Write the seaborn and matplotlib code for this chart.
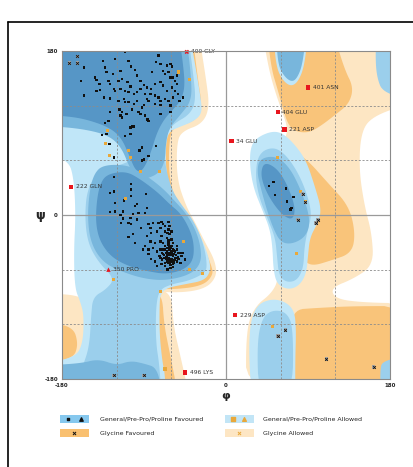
import numpy as np
import pandas as pd
import matplotlib
matplotlib.use("Agg")
import matplotlib.pyplot as plt
import seaborn as sns
from matplotlib.patches import Rectangle

sns.set_style("white")
plt.rcParams["font.family"] = ["DejaVu Sans"]

# ---------------- data: residues (phi, psi) ----------------
beta_phi = [-111,-156,-135,-122,-107,-74,-77,-72,-65,-61,-59,-69,-67,-63,-61,-58,-56,-54,-133,-131,-124,-116,-104,-100,-81,-159,-144,-142,-139,-129,-127,-118,-114,-108,-105,-98,-94,-90,-87,-82,-78,-72,-69,-65,-59,-54,-56,-53,-123,-122,-116,-111,-107,-101,-98,-94,-89,-83,-78,-74,-72,-67,-63,-58,-51,-142,-138,-156,-134,-127,-118,-112,-111,-107,-101,-98,-90,-87,-85,-78,-72,-61,-47,-117,-114,-109,-103,-96,-92,-94,-89,-86,-116,-114,-127,-129,-133,-105,-101,-85,-61,-72]
beta_psi = [179,162,169,171,169,175,168,166,164,166,163,158,155,157,151,151,147,153,162,157,155,158,163,159,157,147,151,148,144,147,144,147,149,146,141,153,147,143,140,138,144,146,142,136,140,144,136,133,138,136,138,136,135,133,135,138,133,133,131,129,125,127,125,129,125,136,137,131,129,128,125,127,124,124,122,125,121,127,125,122,121,120,129,116,113,111,116,113,118,111,109,105,109,107,113,103,101,96,98,103,113,111]

bridge_phi = [-103,-101,-136,-131,-111,-105,-128,-95,-92,-77,-123,-90,-85,-92,-123,-127,-123,-104,-104,-104,-88,-112,-122,-100,-98]
bridge_psi = [97,97,88,89,87,89,78,71,74,76,63,61,65,60,42,24,26,34,28,21,23,16,13,10,12]

alpha_phi = [-122,-100,-87,-127,-122,-113,-116,-113,-102,-96,-89,-105,-98,-115,-107,-104,-93,-85,-83,-80,-74,-71,-69,-63,-72,-76,-82,-87,-67,-63,-62,-65,-60,-69,-72,-78,-83,-89,-91,-85,-80,-76,-72,-100,-102,-107,-85,-82,-78,-72,-69,-65,-62,-58,-54,-50,-49,-56,-60,-63,-67,-71,-76,-64,-61,-58,-54,-50,-45,-47,-67,-63,-58,-62,-69,-71,-67,-62,-60,-64,
             -65,-63,-61,-60,-58,-62,-64,-66,-59,-57,-63,-60,-55,-67,-64,-61,-56,-53,-58,-62,-66,-68,-70,-54,-52,
             -66,-64,-62,-59,-57,-55,-60,-63,-68,-65,-61,-58,-56,-52,-70,-73,-67,-60,-57,-63]
alpha_psi = [13,10,8,3,4,4,0,-4,1,2,2,-3,-5,-9,-9,-10,-14,-10,-14,-9,-9,-8,-10,-8,-14,-18,-20,-23,-18,-16,-21,-25,-27,-31,-29,-31,-29,-34,-38,-38,-36,-40,-38,-31,-21,-24,-43,-48,-51,-47,-43,-45,-42,-38,-34,-42,-45,-47,-51,-53,-56,-54,-56,-60,-58,-54,-51,-53,-49,-42,-34,-31,-31,-34,-38,-23,-12,-12,-18,-20,
             -40,-42,-44,-40,-45,-38,-44,-42,-41,-43,-47,-48,-44,-38,-36,-36,-40,-46,-50,-50,-48,-44,-42,-38,-42,
             -46,-49,-52,-48,-52,-47,-34,-33,-47,-51,-55,-57,-49,-48,-49,-45,-53,-44,-39,-28]

lalpha_phi = [47,52,54,66,67,74,72,71]
lalpha_psi = [32,36,22,29,15,20,8,6]

allowed_phi = [-52,-40,-130,-132,-128,-107,-105,-94,-73,-110,-47,-40,-26,-123,-72,-67,57,82,87,77,51]
allowed_psi = [157,149,93,78,65,71,63,48,48,18,-29,-60,-64,-71,-84,-169,63,26,15,-42,-122]

gly_phi = [-172,-163,-163,84,87,79,101,99,65,57,110,162,-123,-90]
gly_psi = [167,174,167,23,14,-5,-5,-9,-126,-133,-158,-167,-176,-176]

out_labels = ["400 GLY","401 ASN","404 GLU","221 ASP","34 GLU","222 GLN","350 PRO","229 ASP","496 LYS"]
out_phi = [-43,90,57,64,6,-170,-129,10,-45]
out_psi = [179,140,113,94,81,31,-60,-110,-173]
out_kind = ["gly","gen","gen","gen","gen","gen","pro","gen","gen"]

# ---------------- data: contour regions (phi, psi vertices) ----------------
gly_allowed_regions = [
    [(40,180),(180,180),(180,122),(160,108),(148,90),(146,50),(152,10),(160,-20),(162,-55),(140,-70),(115,-80),(120,-92),(150,-96),(180,-97),(180,-180),(22,-180),(22,-125),(32,-100),(50,-86),(58,-70),(58,-20),(58,40),(64,80),(68,95),(61,115),(54,135),(47,160)],
    [(-92,-82),(-60,-82),(-58,-120),(-50,-155),(-40,-180),(-100,-180),(-98,-120)],
    [(-180,-86),(-160,-88),(-150,-100),(-150,-130),(-158,-160),(-180,-166)],
    [(-52,180),(-30,180),(-22,150),(-18,118),(-26,100),(-48,92),(-54,80),(-54,40),(-44,10),(-34,-8),(-24,-28),(-12,-50),(-10,-68),(-24,-82),(-60,-86),(-100,-80),(-100,100)],
]
gly_fav_regions = [
    [(45,180),(118,180),(130,160),(140,140),(135,122),(120,110),(103,97),(90,90),(75,92),(68,100),(63,115),(56,140),(50,160)],
    [(70,72),(88,62),(112,35),(135,10),(142,-20),(138,-42),(115,-50),(95,-56),(85,-50),(80,-20),(75,20),(66,50)],
    [(72,-104),(100,-102),(140,-100),(180,-100),(180,-180),(70,-180),(73,-140)],
    [(-80,-88),(-70,-88),(-68,-120),(-62,-150),(-52,-180),(-92,-180),(-93,-140),(-88,-105)],
    [(-180,-118),(-168,-122),(-162,-142),(-168,-158),(-180,-162)],
    [(-50,180),(-37,180),(-31,150),(-26,118),(-33,104),(-50,98),(-60,94),(-63,70),(-62,40),(-55,15),(-44,0),(-35,-15),(-26,-32),(-16,-55),(-14,-66),(-26,-78),(-60,-82),(-90,-80),(-90,100)],
]
gen_lightest = [
    [(-180,180),(-40,180),(-33,160),(-28,130),(-26,112),(-35,103),(-50,97),(-62,92),(-66,80),(-66,50),(-62,30),(-50,12),(-40,0),(-32,-15),(-24,-32),(-18,-50),(-17,-62),(-24,-72),(-45,-76),(-65,-80),(-72,-87),(-73,-100),(-73,-130),(-70,-160),(-67,-175),(-66,-180),(-180,-180),(-180,-163),(-165,-156),(-157,-140),(-156,-110),(-160,-95),(-166,-80),(-167,-40),(-165,0),(-167,40),(-173,60),(-180,68)],
    [(34,85),(50,92),(62,90),(75,78),(88,60),(98,30),(105,5),(100,-10),(92,-25),(90,-45),(88,-65),(80,-78),(68,-82),(56,-76),(52,-60),(51,-35),(48,-15),(40,5),(30,30),(26,55),(27,75)],
    [(28,-180),(25,-150),(27,-115),(35,-98),(50,-92),(65,-95),(75,-105),(77,-125),(76,-160),(76,-180)],
    [(52,180),(90,180),(86,163),(79,146),(71,141),(62,148),(55,163)],
]
gen_light = [
    [(-180,180),(-42,180),(-36,155),(-33,125),(-40,110),(-58,100),(-66,88),(-68,60),(-60,28),(-48,10),(-38,-3),(-30,-18),(-24,-35),(-21,-52),(-22,-63),(-40,-72),(-60,-76),(-73,-82),(-77,-100),(-77,-140),(-73,-165),(-71,-180),(-170,-180),(-158,-168),(-150,-145),(-148,-110),(-146,-90),(-132,-82),(-122,-70),(-140,-52),(-152,-30),(-155,0),(-152,30),(-138,50),(-115,55),(-100,62),(-104,78),(-118,92),(-140,98),(-165,100),(-180,102)],
    [(36,68),(52,75),(66,66),(80,45),(90,20),(94,0),(90,-15),(86,-35),(85,-58),(78,-72),(66,-74),(58,-66),(56,-45),(54,-25),(46,-5),(36,20),(32,45)],
    [(36,-180),(34,-140),(40,-112),(52,-104),(67,-107),(74,-125),(73,-180)],
    [(165,180),(180,180),(180,127),(172,135),(166,150),(164,170)],
    [(170,-180),(180,-180),(180,-155),(172,-160),(169,-170)],
]
gen_medium = [
    [(-180,180),(-44,180),(-38,150),(-38,125),(-50,110),(-62,96),(-66,80),(-67,58),(-75,44),(-95,38),(-105,50),(-115,75),(-130,88),(-160,95),(-180,98)],
    [(-135,55),(-108,55),(-90,45),(-70,30),(-55,14),(-44,2),(-34,-15),(-28,-33),(-27,-52),(-38,-65),(-65,-72),(-90,-70),(-115,-62),(-135,-52),(-148,-32),(-152,-5),(-150,25),(-145,45)],
    [(-180,-180),(-180,-165),(-160,-163),(-140,-158),(-120,-165),(-105,-160),(-90,-163),(-75,-168),(-70,-180)],
    [(37,62),(55,65),(70,52),(82,28),(90,5),(92,-12),(86,-25),(72,-32),(60,-30),(52,-15),(45,5),(38,30),(34,48)],
    [(55,180),(88,180),(84,165),(78,150),(72,146),(64,152),(57,165)],
]
gen_fav = [
    [(-180,180),(-52,180),(-47,165),(-45,140),(-50,125),(-58,116),(-68,105),(-76,90),(-82,70),(-88,55),(-94,47),(-100,50),(-106,65),(-115,85),(-128,96),(-150,104),(-170,108),(-180,110)],
    [(-130,45),(-110,48),(-95,40),(-75,25),(-62,12),(-50,2),(-40,-15),(-35,-32),(-36,-50),(-46,-60),(-65,-65),(-85,-62),(-105,-57),(-125,-47),(-138,-30),(-143,-10),(-142,15),(-138,35)],
    [(42,58),(55,52),(66,36),(76,10),(74,-5),(64,-2),(52,12),(42,30),(38,46)],
]

legend_labels = ["General/Pre-Pro/Proline Favoured", "General/Pre-Pro/Proline Allowed",
                 "Glycine Favoured", "Glycine Allowed"]
tick_vals = [-180, 0, 180]

# ---------------- helpers ----------------
def smooth(poly, n=3):
    p = np.array(poly, dtype=float)
    p = np.where(np.abs(p) >= 180, np.sign(p) * 200, p)
    for _ in range(n):
        q = np.roll(p, -1, axis=0)
        new = np.empty((2 * len(p), 2))
        new[0::2] = 0.75 * p + 0.25 * q
        new[1::2] = 0.25 * p + 0.75 * q
        p = new
    return p

C_GLY_ALLOWED = "#fde6c3"
C_GLY_FAV = "#f9c47a"
C_LIGHTEST = "#c0e6f8"
C_LIGHT = "#9bcfec"
C_MEDIUM = "#78b6dc"
C_FAV = "#5696c6"

fig = plt.figure(figsize=(4.14, 4.67), dpi=100)
ax = fig.add_axes([62/414, 1 - 379/467, 328/414, 328/467])
ax.set_xlim(-180, 180)
ax.set_ylim(-180, 180)

layers = [(gly_allowed_regions, C_GLY_ALLOWED), (gly_fav_regions, C_GLY_FAV),
          (gen_lightest, C_LIGHTEST), (gen_light, C_LIGHT),
          (gen_medium, C_MEDIUM), (gen_fav, C_FAV)]
for z, (polys, col) in enumerate(layers):
    for poly in polys:
        s = smooth(poly)
        ax.fill(s[:, 0], s[:, 1], color=col, lw=0, zorder=1 + z * 0.1)

# grid lines
for v in (-120, -60, 60, 120):
    ax.axvline(v, color="#8c8c8c", lw=0.6, ls=(0, (2.5, 2)), zorder=3)
    ax.axhline(v, color="#8c8c8c", lw=0.6, ls=(0, (2.5, 2)), zorder=3)
ax.axvline(0, color="#9a9a9a", lw=0.9, zorder=3)
ax.axhline(0, color="#9a9a9a", lw=0.9, zorder=3)

# points
fav = pd.DataFrame({"phi": beta_phi + bridge_phi + alpha_phi + lalpha_phi,
                    "psi": beta_psi + bridge_psi + alpha_psi + lalpha_psi})
sns.scatterplot(data=fav, x="phi", y="psi", marker="s", s=3, color="#111111",
                edgecolor="none", ax=ax, zorder=6, legend=False, clip_on=False)
alw = pd.DataFrame({"phi": allowed_phi, "psi": allowed_psi})
sns.scatterplot(data=alw, x="phi", y="psi", marker="s", s=5, color="#e9a83a",
                edgecolor="none", ax=ax, zorder=6, legend=False)
gly = pd.DataFrame({"phi": gly_phi, "psi": gly_psi})
sns.scatterplot(data=gly, x="phi", y="psi", marker="s", s=6, color="#a0a0a0",
                edgecolor="none", ax=ax, zorder=6, legend=False)
sns.scatterplot(data=gly, x="phi", y="psi", marker="x", s=4, color="#111111",
                linewidth=0.6, ax=ax, zorder=7, legend=False)

out = pd.DataFrame({"phi": out_phi, "psi": out_psi, "kind": out_kind, "label": out_labels})
mk = {"gen": "s", "gly": "X", "pro": "^"}
for kind, sub in out.groupby("kind"):
    sns.scatterplot(data=sub, x="phi", y="psi", marker=mk[kind], s=10, color="#e8161e",
                    edgecolor="none", ax=ax, zorder=8, legend=False, clip_on=False)
for _, r in out.iterrows():
    ax.text(r.phi + 5, r.psi, r.label, fontsize=4.3, va="center", ha="left",
            color="#333333", zorder=9, clip_on=False)

ax.set_xticks(tick_vals)
ax.set_yticks(tick_vals)
ax.set_xticklabels([str(t) for t in tick_vals], fontsize=4, fontweight="bold")
ax.set_yticklabels([str(t) for t in tick_vals], fontsize=4, fontweight="bold")
ax.tick_params(length=0, pad=3)
ax.set_xlabel("φ", fontsize=8, fontweight="bold", labelpad=2)
ax.set_ylabel("ψ", fontsize=9, fontweight="bold", rotation=0, labelpad=3, va="center")
for sp in ax.spines.values():
    sp.set_color("#8a8a8a")
    sp.set_linewidth(0.8)
    sp.set_zorder(10)

# overlay in pixel coordinates for legend and frame
lax = fig.add_axes([0, 0, 1, 1])
lax.set_xlim(0, 414)
lax.set_ylim(467, 0)
lax.axis("off")
lax.patch.set_alpha(0)
lax.plot([8, 8], [22, 467], color="black", lw=1.2)
lax.plot([8, 414], [22, 22], color="black", lw=1.2)

rows = [419, 433]
cols = [(60, 100), (225, 263)]
patch_cols = [["#86c8ee", "#c2e5f6"], ["#f9c070", "#fde6c4"]]
for i, lbl in enumerate(legend_labels):
    r, c = divmod(i, 2)
    x0, xt = cols[c]
    y = rows[r]
    lax.add_patch(Rectangle((x0, y - 4), 29, 8, color=patch_cols[r][c], lw=0))
    lax.text(xt, y, lbl, fontsize=4.5, va="center", ha="left", color="#222222")
lax.scatter([68], [rows[0]], marker="s", s=3, color="#111111")
lax.scatter([81], [rows[0]], marker="^", s=6, color="#111111")
lax.scatter([233], [rows[0]], marker="s", s=5, color="#e9a83a")
lax.scatter([244], [rows[0]], marker="^", s=7, color="#e9a83a")
lax.scatter([74], [rows[1]], marker="x", s=5, color="#111111", linewidth=0.7)
lax.scatter([239], [rows[1]], marker="x", s=5, color="#e9a83a", linewidth=0.7)

fig.savefig("out.png", dpi=100)
